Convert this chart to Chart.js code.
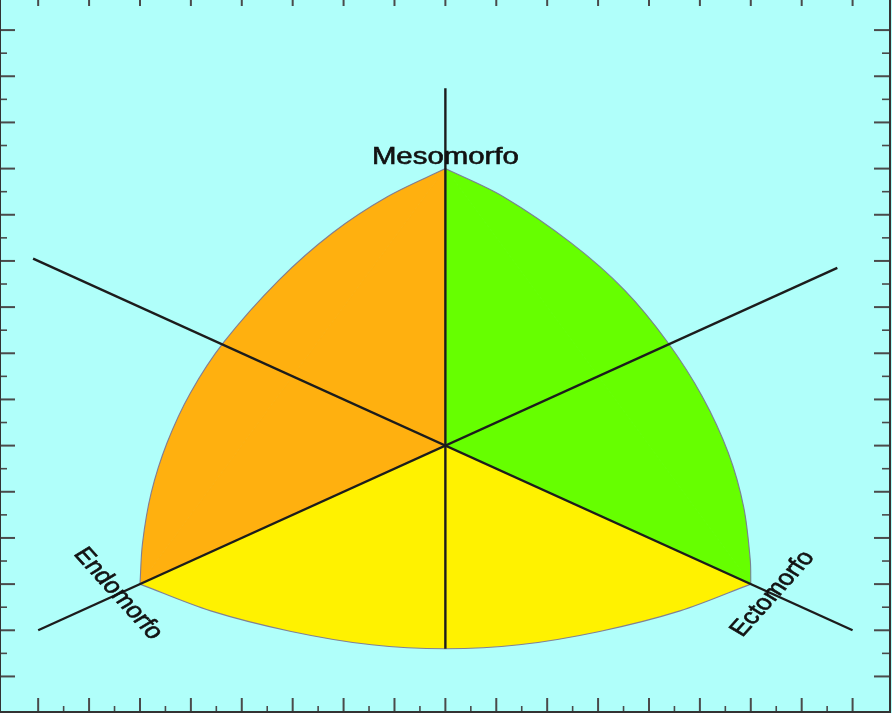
<!DOCTYPE html>
<html><head><meta charset="utf-8">
<script src="https://cdn.jsdelivr.net/npm/chart.js@4.4.0/dist/chart.umd.min.js"></script>
<style>
html,body{margin:0;padding:0;overflow:hidden;background:#B0FFFA;width:892px;height:713px;}
#wrap{position:absolute;left:0;top:-8px;width:892px;height:721px;}
canvas{display:block;}
</style></head><body>
<div id="wrap"><canvas id="c" width="892" height="721"></canvas></div>
<script>
// ---- data (somatochart units: X = ecto - endo, Y = 2*meso - (endo + ecto)) ----
const vertexNames = ['Mesomorfo', 'Endomorfo', 'Ectomorfo'];
const vertexX = [0, -6, 6];
const vertexY = [12, -6, -6];
const centerX = 0, centerY = 0;

const leftArcX   = [0, -1.15, -2.22, -3.27, -4.35, -5.01, -5.47, -5.78, -5.95, -6];
const leftArcY   = [12, 10.77, 9.21, 7.17, 4.49, 2.28, 0.11, -2.05, -4.22, -6];
const rightArcX  = [0, 1.14, 2.47, 3.52, 4.36, 5.05, 5.56, 5.86, 5.99, 6];
const rightArcY  = [12, 10.78, 8.78, 6.74, 4.50, 2.12, -0.32, -2.65, -4.96, -6];
const bottomArcX = [-6, -4.61, -3.03, -1.45, 0, 1.45, 3.03, 4.61, 6];
const bottomArcY = [-6, -7.16, -8.05, -8.63, -8.8, -8.63, -8.05, -7.16, -6];

const axisMesoX = [0, 0],      axisMesoY = [-8.8, 15.48];
const axisAX    = [-8, 7.7],   axisAY    = [-8, 7.7];
const axisBX    = [-8.1, 8],   axisBY    = [8.1, -8];

const labelX = [0, -6.43, 6.43];
const labelY = [12.2, -6.42, -6.42];
const labelAngle = [0, 53.6, -53.6];

const xMajorTicks = [-8,-7,-6,-5,-4,-3,-2,-1,0,1,2,3,4,5,6,7,8];
const xMinorTicks = [-7.5,-6.5,-5.5,-4.5,-3.5,-2.5,-1.5,-0.5,0.5,1.5,2.5,3.5,4.5,5.5,6.5,7.5];
const yMajorTicks = [-10,-8,-6,-4,-2,0,2,4,6,8,10,12,14,16,18];
const yMinorTicks = [-9,-7,-5,-3,-1,1,3,5,7,9,11,13,15,17];

// ---- styles ----
const ORANGE = '#FFB00F', GREEN = '#66FF00', YELLOW = '#FFF200';
const BG = '#B0FFFA', LINE = '#1c1c1c', OUTLINE = 'rgba(120,115,150,0.9)';

const pts = (xs, ys) => xs.map((x, i) => ({x: x, y: ys[i]}));
const tri = (a, b) => [{x: centerX, y: centerY}, {x: vertexX[a], y: vertexY[a]}, {x: vertexX[b], y: vertexY[b]}];

function lineDs(data) {
  return {data, showLine: true, fill: false, borderColor: LINE, borderWidth: 2.4, pointRadius: 0, tension: 0};
}
function arcDs(data, color) {
  return {data, showLine: true, fill: 'shape', backgroundColor: color, borderColor: OUTLINE,
          borderWidth: 1.1, pointRadius: 0, tension: 0.33, borderJoinStyle: 'round'};
}
function triDs(data, color) {
  return {data, showLine: true, fill: 'shape', backgroundColor: color, borderColor: color,
          borderWidth: 1.2, pointRadius: 0, tension: 0, borderJoinStyle: 'round'};
}

const bgPlugin = {
  id: 'bg',
  beforeDraw(chart) {
    const ctx = chart.ctx;
    ctx.save(); ctx.fillStyle = BG; ctx.fillRect(0, 0, chart.width, chart.height); ctx.restore();
  }
};

const labelsPlugin = {
  id: 'labels',
  afterDatasetsDraw(chart) {
    const {ctx, scales: {x, y}} = chart;
    ctx.save();
    ctx.fillStyle = '#121212';
    ctx.strokeStyle = '#121212';
    ctx.lineWidth = 0.6;
    ctx.font = '24px "Liberation Sans", Arial, sans-serif';
    const stretch = 147 / ctx.measureText(vertexNames[0]).width;
    vertexNames.forEach((t, i) => {
      const px = x.getPixelForValue(labelX[i]), py = y.getPixelForValue(labelY[i]);
      ctx.save();
      ctx.translate(px, py);
      ctx.scale(stretch, 1);
      ctx.rotate(labelAngle[i] * Math.PI / 180);
      ctx.font = (i === 0 ? '24px' : '22px') + ' "Liberation Sans", Arial, sans-serif';
      ctx.textAlign = 'center';
      ctx.textBaseline = i === 0 ? 'alphabetic' : 'middle';
      ctx.fillText(t, 0, 0);
      ctx.strokeText(t, 0, 0);
      ctx.restore();
    });
    ctx.restore();
  }
};

const framePlugin = {
  id: 'frame',
  afterDraw(chart) {
    const {ctx, chartArea: a, scales: {x, y}} = chart;
    ctx.save();
    ctx.strokeStyle = '#4a4a4a';
    const seg = (x1, y1, x2, y2, w) => { ctx.lineWidth = w; ctx.beginPath(); ctx.moveTo(x1, y1); ctx.lineTo(x2, y2); ctx.stroke(); };
    xMajorTicks.forEach(v => { const p = x.getPixelForValue(v); seg(p, a.bottom, p, a.bottom - 14, 2); seg(p, a.top, p, a.top + 14, 2); });
    xMinorTicks.forEach(v => { const p = x.getPixelForValue(v); seg(p, a.bottom, p, a.bottom - 6, 1.6); seg(p, a.top, p, a.top + 6, 1.6); });
    yMajorTicks.forEach(v => { const p = y.getPixelForValue(v); seg(a.left, p, a.left + 15, p, 2); seg(a.right, p, a.right - 16, p, 2); });
    yMinorTicks.forEach(v => { const p = y.getPixelForValue(v); seg(a.left, p, a.left + 7, p, 1.6); seg(a.right, p, a.right - 8, p, 1.6); });
    ctx.strokeStyle = '#333333';
    ctx.lineWidth = 2;
    ctx.strokeRect(a.left, a.top, a.right - a.left, a.bottom - a.top);
    ctx.restore();
  }
};

new Chart(document.getElementById('c'), {
  type: 'scatter',
  data: {
    datasets: [
      lineDs(pts(axisMesoX, axisMesoY)),
      lineDs(pts(axisAX, axisAY)),
      lineDs(pts(axisBX, axisBY)),
      arcDs(pts(leftArcX, leftArcY), ORANGE),
      arcDs(pts(rightArcX, rightArcY), GREEN),
      arcDs(pts(bottomArcX, bottomArcY), YELLOW),
      triDs(tri(0, 1), ORANGE),
      triDs(tri(0, 2), GREEN),
      triDs(tri(1, 2), YELLOW)
    ]
  },
  options: {
    responsive: false,
    animation: false,
    devicePixelRatio: 1,
    layout: {padding: {left: 0, right: 2, top: 0, bottom: 1}},
    plugins: {legend: {display: false}, tooltip: {enabled: false}},
    scales: {
      x: {type: 'linear', min: -8.75, max: 8.735, display: false, bounds: 'data'},
      y: {type: 'linear', min: -11.54, max: 19.65, display: false, bounds: 'data'}
    }
  },
  plugins: [bgPlugin, labelsPlugin, framePlugin]
});
</script>
</body></html>
